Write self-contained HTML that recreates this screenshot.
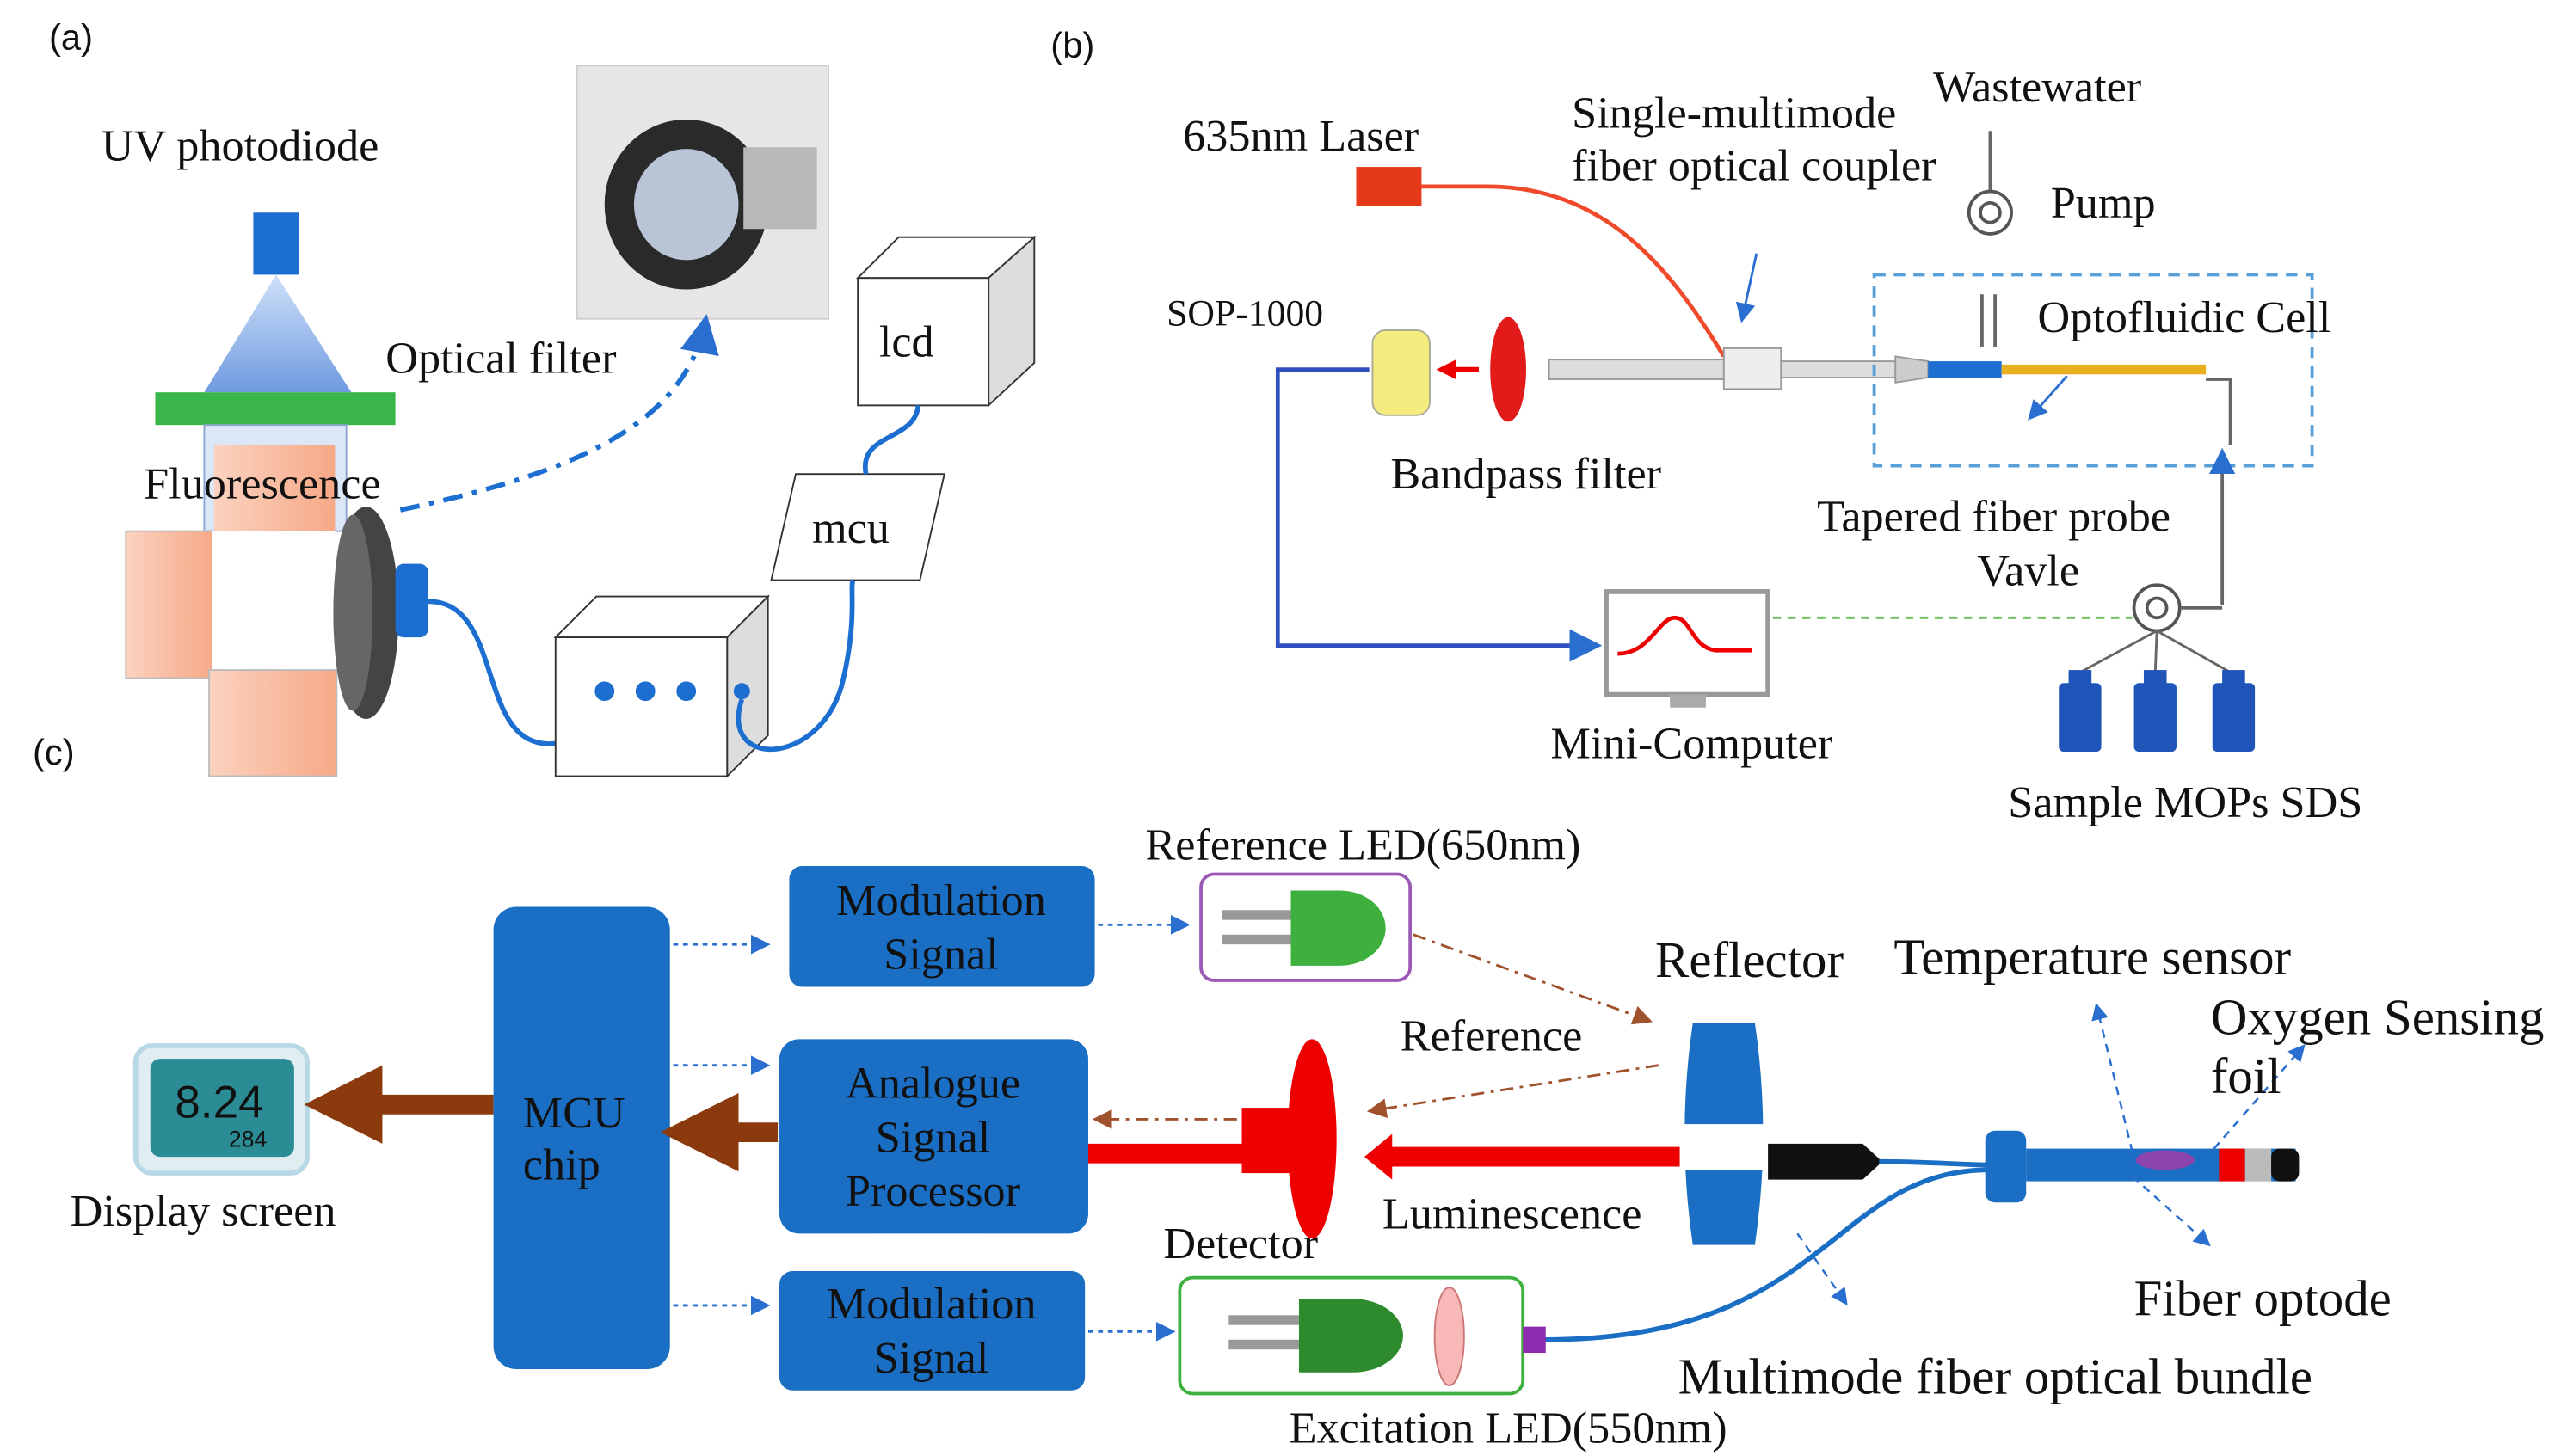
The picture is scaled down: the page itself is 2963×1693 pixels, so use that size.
<!DOCTYPE html>
<html><head><meta charset="utf-8">
<style>
html,body{margin:0;padding:0;background:#fff;}
svg{display:block;}
text{font-family:"Liberation Serif",serif;font-size:27.5px;fill:#111;}
.s{font-family:"Liberation Sans",sans-serif;font-size:22px;}
.w{fill:#111;font-size:27.5px;}
.b{font-size:31px;}
</style></head><body>
<svg width="2963" height="1693" viewBox="0 0 1560 891" xmlns="http://www.w3.org/2000/svg">
<defs>
<marker id="ab" markerWidth="8" markerHeight="8" refX="7" refY="4" orient="auto"><path d="M0,0 L8,4 L0,8z" fill="#2a6fd0"/></marker>
<marker id="abr" markerWidth="8" markerHeight="8" refX="7" refY="4" orient="auto"><path d="M0,0 L8,4 L0,8z" fill="#a0522d"/></marker>
<marker id="ar" markerWidth="4" markerHeight="4" refX="3" refY="2" orient="auto"><path d="M0,0 L4,2 L0,4z" fill="#e00"/></marker>
<marker id="abw" markerWidth="4" markerHeight="4" refX="3" refY="2" orient="auto"><path d="M0,0 L4,2 L0,4z" fill="#8b3a0e"/></marker>
<linearGradient id="tri" x1="0" y1="0" x2="0" y2="1"><stop offset="0" stop-color="#cfe0f8"/><stop offset="1" stop-color="#6f9be0"/></linearGradient>
<linearGradient id="pea" x1="0" y1="0" x2="1" y2="0"><stop offset="0" stop-color="#fbd2bf"/><stop offset="1" stop-color="#f6a987"/></linearGradient>
</defs>

<!-- (a) -->
<text class="s" x="30" y="30">(a)</text>
<text x="62" y="98">UV photodiode</text>
<rect x="155" y="130" width="28" height="38" fill="#1c6fd0"/>
<polygon points="169,168 125,240 215,240" fill="url(#tri)"/>
<rect x="95" y="240" width="147" height="20" fill="#3ab54a"/>
<rect x="125" y="260" width="87" height="65" fill="#dbe6f6" stroke="#8aa6d0"/>
<rect x="131" y="272" width="74" height="53" fill="url(#pea)"/>
<rect x="77" y="325" width="53" height="90" fill="url(#pea)" stroke="#bbb"/>
<rect x="130" y="325" width="75" height="85" fill="#fff"/>
<rect x="128" y="410" width="78" height="65" fill="url(#pea)" stroke="#bbb"/>
<text x="88" y="305">Fluorescence</text>
<ellipse cx="224" cy="375" rx="20" ry="65" fill="#444"/>
<ellipse cx="216" cy="375" rx="12" ry="60" fill="#666"/>
<rect x="242" y="345" width="20" height="45" rx="5" fill="#1c6fd0"/>
<path d="M262,368 C310,368 290,460 340,455" stroke="#1c6fd0" stroke-width="3" fill="none"/>
<rect x="353" y="40" width="154" height="155" fill="#e6e6e8" stroke="#ccc"/>
<ellipse cx="420" cy="125" rx="50" ry="52" fill="#2a2a2a"/>
<ellipse cx="420" cy="125" rx="32" ry="34" fill="#b9c4d6"/>
<rect x="455" y="90" width="45" height="50" fill="#b8b8b8"/>
<text x="236" y="228">Optical filter</text>
<path d="M245,312 C350,290 420,260 432,195" stroke="#1c6fd0" stroke-width="3" stroke-dasharray="12,6,3,6" fill="none" marker-end="url(#ab)"/>
<polygon points="340,390 445,390 470,365 365,365" fill="#fff" stroke="#333"/>
<polygon points="445,390 470,365 470,450 445,475" fill="#ddd" stroke="#333"/>
<rect x="340" y="390" width="105" height="85" fill="#fff" stroke="#333"/>
<circle cx="370" cy="423" r="6" fill="#1c6fd0"/><circle cx="395" cy="423" r="6" fill="#1c6fd0"/><circle cx="420" cy="423" r="6" fill="#1c6fd0"/>
<circle cx="454" cy="423" r="5" fill="#1c6fd0"/>
<polygon points="487,290 578,290 563,355 472,355" fill="#fff" stroke="#333"/>
<text x="497" y="332">mcu</text>
<polygon points="525,170 550,145 633,145 605,170" fill="#fff" stroke="#333"/>
<polygon points="605,170 633,145 633,222 605,248" fill="#ddd" stroke="#333"/>
<rect x="525" y="170" width="80" height="78" fill="#fff" stroke="#333"/>
<text x="538" y="218">lcd</text>
<path d="M454,428 C440,470 500,470 515,420 C525,380 520,360 522,355" stroke="#1c6fd0" stroke-width="3" fill="none"/>
<path d="M530,290 C525,265 560,270 562,248" stroke="#1c6fd0" stroke-width="3" fill="none"/>

<!-- (b) -->
<text class="s" x="643" y="35">(b)</text>
<text x="724" y="92">635nm Laser</text>
<rect x="830" y="102" width="40" height="24" fill="#e43a1a"/>
<path d="M870,114 L910,114 C980,114 1020,160 1055,218" stroke="#f04a2a" stroke-width="2.5" fill="none"/>
<text x="962" y="78">Single-multimode</text>
<text x="962" y="110">fiber optical coupler</text>
<text x="1183" y="62">Wastewater</text>
<line x1="1218" y1="80" x2="1218" y2="118" stroke="#666" stroke-width="2"/>
<circle cx="1218" cy="130" r="13" fill="#fff" stroke="#555" stroke-width="2"/>
<circle cx="1218" cy="130" r="6" fill="none" stroke="#555" stroke-width="2"/>
<text x="1255" y="133">Pump</text>
<text x="714" y="199" style="font-size:23px">SOP-1000</text>
<rect x="840" y="202" width="35" height="52" rx="8" fill="#f5ec80" stroke="#aa9"/>
<line x1="905" y1="226" x2="882" y2="226" stroke="#e00" stroke-width="3" marker-end="url(#ar)"/>
<ellipse cx="923" cy="226" rx="11" ry="32" fill="#e31a1a"/>
<rect x="948" y="220" width="107" height="12" fill="#ddd" stroke="#999"/>
<rect x="1055" y="213" width="35" height="25" fill="#eee" stroke="#999"/>
<rect x="1090" y="221" width="70" height="10" fill="#ddd" stroke="#999"/>
<polygon points="1160,218 1180,221 1180,231 1160,234" fill="#ccc" stroke="#999"/>
<rect x="1180" y="221" width="45" height="10" fill="#1c6fd0"/>
<rect x="1225" y="223" width="125" height="6" fill="#e8b020"/>
<rect x="1147" y="168" width="268" height="117" fill="none" stroke="#5aa0d8" stroke-width="2" stroke-dasharray="7,5"/>
<line x1="1213" y1="180" x2="1213" y2="212" stroke="#666" stroke-width="2"/>
<line x1="1221" y1="180" x2="1221" y2="212" stroke="#666" stroke-width="2"/>
<polyline points="1350,232 1365,232 1365,272" stroke="#666" stroke-width="2" fill="none"/>
<text x="1247" y="203">Optofluidic Cell</text>
<line x1="1075" y1="155" x2="1066" y2="196" stroke="#2a6fd0" stroke-width="1.5" marker-end="url(#ab)"/>
<line x1="1265" y1="230" x2="1242" y2="256" stroke="#2a6fd0" stroke-width="1.5" marker-end="url(#ab)"/>
<text x="851" y="299">Bandpass filter</text>
<text x="1112" y="325">Tapered fiber probe</text>
<text x="1210" y="358">Vavle</text>
<line x1="1360" y1="370" x2="1360" y2="276" stroke="#666" stroke-width="2" marker-end="url(#ab)"/>
<line x1="1335" y1="372" x2="1360" y2="372" stroke="#666" stroke-width="2"/>
<circle cx="1320" cy="372" r="14" fill="#fff" stroke="#555" stroke-width="2"/>
<circle cx="1320" cy="372" r="6" fill="none" stroke="#555" stroke-width="2"/>
<polyline points="838,226 782,226 782,395 978,395" stroke="#3050c0" stroke-width="2.5" fill="none" marker-end="url(#ab)"/>
<rect x="983" y="362" width="99" height="63" fill="#fff" stroke="#999" stroke-width="3"/>
<path d="M990,400 C1010,400 1015,378 1025,378 C1035,378 1035,396 1050,398 L1072,398" stroke="#e00" stroke-width="2.5" fill="none"/>
<rect x="1022" y="425" width="22" height="8" fill="#aaa"/>
<line x1="1085" y1="378" x2="1305" y2="378" stroke="#6bbf5a" stroke-width="1.5" stroke-dasharray="5,4"/>
<text x="949" y="464">Mini-Computer</text>
<g stroke="#666" stroke-width="1.5"><line x1="1320" y1="386" x2="1272" y2="412"/><line x1="1320" y1="386" x2="1319" y2="412"/><line x1="1320" y1="386" x2="1366" y2="412"/></g>
<g fill="#1f55b8"><rect x="1260" y="418" width="26" height="42" rx="3"/><rect x="1266" y="410" width="14" height="10"/>
<rect x="1306" y="418" width="26" height="42" rx="3"/><rect x="1312" y="410" width="14" height="10"/>
<rect x="1354" y="418" width="26" height="42" rx="3"/><rect x="1360" y="410" width="14" height="10"/></g>
<text x="1229" y="500">Sample MOPs SDS</text>

<!-- (c) -->
<text class="s" x="20" y="468">(c)</text>
<rect x="83" y="640" width="105" height="78" rx="10" fill="#e0eef2" stroke="#b8d8e6" stroke-width="3"/>
<rect x="92" y="648" width="88" height="60" rx="6" fill="#2c8c96"/>
<text x="107" y="684" style="font-family:'Liberation Sans',sans-serif;font-size:28px;fill:#111">8.24</text>
<text x="140" y="702" style="font-family:'Liberation Sans',sans-serif;font-size:14px;fill:#111">284</text>
<text x="43" y="750">Display screen</text>
<line x1="302" y1="676" x2="198" y2="676" stroke="#8b3a0e" stroke-width="12" marker-end="url(#abw)"/>
<rect x="302" y="555" width="108" height="283" rx="14" fill="#1a6fc4"/>
<text x="320" y="690" class="w">MCU</text>
<text x="320" y="722" class="w">chip</text>
<line x1="476" y1="693" x2="416" y2="693" stroke="#8b3a0e" stroke-width="12" marker-end="url(#abw)"/>
<rect x="483" y="530" width="187" height="74" rx="8" fill="#1a6fc4"/>
<text x="576" y="560" text-anchor="middle" class="w">Modulation</text>
<text x="576" y="593" text-anchor="middle" class="w">Signal</text>
<rect x="477" y="636" width="189" height="119" rx="12" fill="#1a6fc4"/>
<text x="571" y="672" text-anchor="middle" class="w">Analogue</text>
<text x="571" y="705" text-anchor="middle" class="w">Signal</text>
<text x="571" y="738" text-anchor="middle" class="w">Processor</text>
<rect x="477" y="778" width="187" height="73" rx="8" fill="#1a6fc4"/>
<text x="570" y="807" text-anchor="middle" class="w">Modulation</text>
<text x="570" y="840" text-anchor="middle" class="w">Signal</text>
<g stroke="#2a6fd0" stroke-width="1.5" stroke-dasharray="3,3" fill="none">
<line x1="412" y1="578" x2="470" y2="578" marker-end="url(#ab)"/>
<line x1="412" y1="652" x2="470" y2="652" marker-end="url(#ab)"/>
<line x1="412" y1="799" x2="470" y2="799" marker-end="url(#ab)"/>
<line x1="672" y1="566" x2="727" y2="566" marker-end="url(#ab)"/>
<line x1="666" y1="815" x2="718" y2="815" marker-end="url(#ab)"/>
</g>
<text x="701" y="526">Reference LED(650nm)</text>
<rect x="735" y="535" width="128" height="65" rx="8" fill="#fff" stroke="#9b59b6" stroke-width="2"/>
<rect x="748" y="557" width="45" height="6" fill="#999"/><rect x="748" y="572" width="45" height="6" fill="#999"/>
<path d="M790,545 L820,545 A28,23 0 0 1 820,591 L790,591z" fill="#3db03d"/>
<g stroke="#a0522d" stroke-width="1.5" stroke-dasharray="8,4,2,4" fill="none">
<line x1="865" y1="572" x2="1010" y2="625" marker-end="url(#abr)"/>
<line x1="1015" y1="652" x2="838" y2="680" marker-end="url(#abr)"/>
<line x1="757" y1="685" x2="670" y2="685" marker-end="url(#abr)"/>
</g>
<text x="1013" y="598" class="b">Reflector</text>
<path d="M1036,626 L1074,626 Q1084,694 1074,762 L1036,762 Q1026,694 1036,626z" fill="#1a6fc4"/>
<rect x="1028" y="688" width="54" height="28" fill="#fff"/>
<text x="857" y="643">Reference</text>
<line x1="666" y1="706" x2="762" y2="706" stroke="#e00" stroke-width="12"/>
<rect x="760" y="678" width="40" height="40" fill="#e00"/>
<ellipse cx="803" cy="697" rx="15" ry="61" fill="#e00"/>
<line x1="1028" y1="708" x2="848" y2="708" stroke="#e00" stroke-width="12"/>
<polygon points="835,708 852,694 852,722" fill="#e00"/>
<text x="846" y="752">Luminescence</text>
<text x="712" y="770">Detector</text>
<polygon points="1082,700 1140,700 1152,711 1140,722 1082,722" fill="#111"/>
<path d="M1150,711 C1180,711 1200,713 1220,713" stroke="#1a6fc4" stroke-width="3" fill="none"/>
<path d="M1218,716 C1120,716 1120,820 945,820" stroke="#1a6fc4" stroke-width="3" fill="none"/>
<rect x="1240" y="703" width="165" height="20" fill="#1a6fc4"/>
<rect x="1215" y="692" width="25" height="44" rx="6" fill="#1a6fc4"/>
<ellipse cx="1325" cy="710" rx="18" ry="6" fill="#8e44ad"/>
<rect x="1358" y="703" width="16" height="20" fill="#e00"/>
<rect x="1374" y="703" width="16" height="20" fill="#bbb"/>
<rect x="1390" y="703" width="17" height="20" rx="5" fill="#111"/>
<g stroke="#2a6fd0" stroke-width="1.3" stroke-dasharray="5,4" fill="none">
<line x1="1305" y1="705" x2="1283" y2="615" marker-end="url(#ab)"/>
<line x1="1355" y1="703" x2="1410" y2="640" marker-end="url(#ab)"/>
<line x1="1305" y1="720" x2="1352" y2="762" marker-end="url(#ab)"/>
<line x1="1100" y1="755" x2="1130" y2="798" marker-end="url(#ab)"/>
</g>
<text x="1159" y="596" class="b">Temperature sensor</text>
<text x="1353" y="633" class="b">Oxygen Sensing</text>
<text x="1353" y="669" class="b">foil</text>
<text x="1306" y="805" class="b">Fiber optode</text>
<rect x="722" y="782" width="210" height="71" rx="8" fill="#fff" stroke="#3db03d" stroke-width="2"/>
<rect x="752" y="805" width="45" height="6" fill="#999"/><rect x="752" y="820" width="45" height="6" fill="#999"/>
<path d="M795,795 L828,795 A30,22 0 0 1 828,840 L795,840z" fill="#2d8a2d"/>
<ellipse cx="887" cy="818" rx="9" ry="30" fill="#f8b8b8" stroke="#c77"/>
<rect x="932" y="812" width="14" height="16" fill="#8e2cb0"/>
<text x="789" y="883">Excitation LED(550nm)</text>
<text x="1027" y="853" class="b">Multimode fiber optical bundle</text>
</svg>
</body></html>
